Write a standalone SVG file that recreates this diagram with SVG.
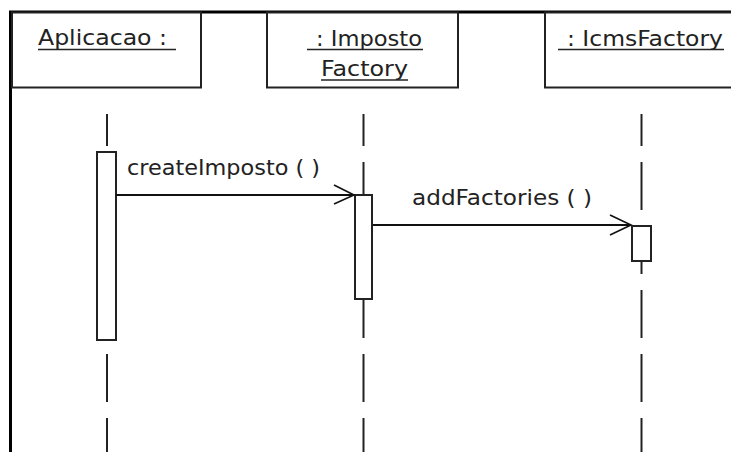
<svg xmlns="http://www.w3.org/2000/svg" width="731" height="452" viewBox="0 0 731 452">
  <style>
    .frame { fill: none; stroke: #000; stroke-width: 3; }
    .box { fill: #fff; stroke: #222; stroke-width: 2; }
    .life { stroke: #222; stroke-width: 2; stroke-dasharray: 48 16; stroke-dashoffset: 16; }
    .act { fill: #fff; stroke: #222; stroke-width: 2; }
    .msg { fill: none; stroke: #111; stroke-width: 2; }
    .head { fill: none; stroke: #111; stroke-width: 1.6; }
    .ul { stroke: #222; stroke-width: 1.6; }
    text { font-family: "DejaVu Sans", "Liberation Sans", sans-serif; font-size: 21px; fill: #222; }
  </style>
  <rect width="731" height="452" fill="#fff"/>

  <!-- diagram frame -->
  <path class="frame" d="M10.5,452 V12 H731"/>

  <!-- lifelines -->
  <g id="lifelines">
    <line class="life" x1="107" y1="114" x2="107" y2="452"/>
    <line class="life" x1="363.5" y1="114" x2="363.5" y2="452"/>
    <line class="life" x1="641.5" y1="114" x2="641.5" y2="452"/>
  </g>

  <g id="aplicacao">
    <rect class="box" x="12" y="12.5" width="189" height="75"/>
    <text x="38" y="45" textLength="129" lengthAdjust="spacingAndGlyphs">Aplicacao :</text>
    <line class="ul" x1="38" y1="49.5" x2="176" y2="49.5"/>
    <rect class="act" x="97" y="152" width="19" height="188"/>
  </g>

  <g id="impostoFactory">
    <rect class="box" x="267" y="12.5" width="191" height="75"/>
    <text x="316" y="45.5" textLength="106" lengthAdjust="spacingAndGlyphs">: Imposto</text>
    <line class="ul" x1="307" y1="49.5" x2="423" y2="49.5"/>
    <text x="321" y="76" textLength="87" lengthAdjust="spacingAndGlyphs">Factory</text>
    <line class="ul" x1="321" y1="80" x2="408" y2="80"/>
    <rect class="act" x="355" y="195" width="17" height="104"/>
  </g>

  <g id="icmsFactory">
    <rect class="box" x="545" y="12.5" width="195" height="75"/>
    <text x="567" y="45.5" textLength="156" lengthAdjust="spacingAndGlyphs">: IcmsFactory</text>
    <line class="ul" x1="558" y1="49.5" x2="724" y2="49.5"/>
    <rect class="act" x="632" y="226" width="19" height="35"/>
  </g>

  <!-- messages -->
  <g id="connectors">
    <line class="msg" x1="116" y1="195" x2="354" y2="195"/>
    <path class="head" d="M334,185 L354,195 L334,204"/>
    <text x="127" y="175" textLength="193" lengthAdjust="spacingAndGlyphs">createImposto ( )</text>

    <line class="msg" x1="373" y1="225" x2="631" y2="225"/>
    <path class="head" d="M610,215 L631,225 L610,235"/>
    <text x="412" y="205" textLength="180" lengthAdjust="spacingAndGlyphs">addFactories ( )</text>
  </g>
</svg>
